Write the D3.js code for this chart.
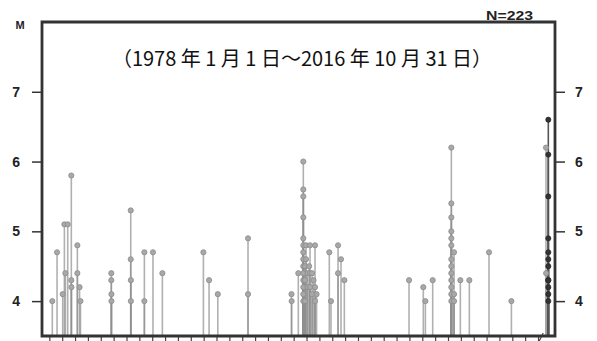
<!DOCTYPE html>
<html>
<head>
<meta charset="utf-8">
<script src="https://cdn.jsdelivr.net/npm/d3@7"></script>
<style>
  html, body { margin: 0; padding: 0; background: #fff; }
  svg { display: block; }
</style>
</head>
<body>
<svg id="chart" width="597" height="341"></svg>
<script>
// Magnitude–time plot of earthquakes (M >= 4.0), 1978-01-01 to 2016-10-31.
// Times are decimal years; magnitudes in M.

// Earlier events (grey)
const pastTime = [
  1978.23, 1978.60, 1979.04, 1979.17, 1979.25, 1979.43, 1979.71, 1979.71, 1979.72,
  1980.18, 1980.18, 1980.35, 1980.42,
  1982.82, 1982.82, 1982.83, 1982.83,
  1984.33, 1984.33, 1984.34, 1984.34,
  1985.39, 1985.39, 1986.06, 1986.79,
  1989.98, 1990.42, 1991.10, 1993.45, 1993.45,
  1996.83, 1996.84, 1997.36,
  1997.75, 1997.75, 1997.75, 1997.75, 1997.75, 1997.75, 1997.75,
  1997.75, 1997.75, 1997.75, 1997.75, 1997.75, 1997.75, 1997.75,
  1997.88, 1997.88, 1997.88, 1997.96, 1997.96,
  1998.08, 1998.08, 1998.20, 1998.27, 1998.27, 1998.27,
  1998.43, 1998.43, 1998.54, 1998.66, 1998.66, 1998.66, 1998.78,
  1999.77, 1999.90, 2000.45, 2000.45, 2000.68, 2000.94,
  2005.97, 2007.08, 2007.24, 2007.81,
  2009.26, 2009.26, 2009.26, 2009.26, 2009.26, 2009.26, 2009.26,
  2009.26, 2009.26, 2009.26, 2009.26, 2009.26, 2009.26,
  2009.47, 2009.47, 2009.47, 2009.96, 2010.66, 2012.19, 2013.93,
  2016.62, 2016.63
];
const pastMag = [
  4.0, 4.7, 4.1, 5.1, 4.4, 5.1, 5.8, 4.3, 4.2,
  4.8, 4.4, 4.2, 4.0,
  4.4, 4.3, 4.1, 4.0,
  5.3, 4.6, 4.3, 4.0,
  4.7, 4.0, 4.7, 4.4,
  4.7, 4.3, 4.1, 4.9, 4.1,
  4.1, 4.0, 4.4,
  6.0, 5.6, 5.5, 5.2, 4.9, 4.8, 4.7,
  4.6, 4.5, 4.4, 4.3, 4.2, 4.1, 4.0,
  4.5, 4.3, 4.0, 4.8, 4.6,
  4.4, 4.2, 4.5, 4.8, 4.4, 4.2,
  4.4, 4.1, 4.3, 4.8, 4.2, 4.0, 4.1,
  4.7, 4.0, 4.8, 4.4, 4.6, 4.3,
  4.3, 4.2, 4.0, 4.3,
  6.2, 5.4, 5.2, 5.0, 4.9, 4.8, 4.6,
  4.5, 4.4, 4.3, 4.2, 4.1, 4.0,
  4.7, 4.1, 4.0, 4.3, 4.3, 4.7, 4.0,
  6.2, 4.4
];

// Most recent sequence (dark)
const recentTime = [2016.80, 2016.80, 2016.80, 2016.80, 2016.80, 2016.80,
                    2016.80, 2016.80, 2016.80, 2016.80, 2016.80, 2016.80];
const recentMag  = [6.6, 6.1, 5.5, 4.9, 4.7, 4.6, 4.5, 4.3, 4.3, 4.2, 4.1, 4.0];

const magTicks = [4, 5, 6, 7];
const yearTicks = d3.range(1978, 2017);
const titleText = "（1978 年 1 月 1 日～2016 年 10 月 31 日）";
const countText = "N=223";

const svg = d3.select("#chart");
const plotLeft = 42, plotRight = 555, plotTop = 22, plotBottom = 336;

const x = d3.scaleLinear().domain([1977.43, 2017.32]).range([plotLeft, plotRight]);
const y = d3.scaleLinear().domain([3.5, 8]).range([plotBottom, plotTop]);

const past = pastTime.map((t, i) => ({ t, m: pastMag[i] }));
const recent = recentTime.map((t, i) => ({ t, m: recentMag[i] }));

// stems
const stems = svg.append("g");
stems.selectAll("line.past").data(past).join("line")
  .attr("class", "past")
  .attr("x1", d => x(d.t)).attr("x2", d => x(d.t))
  .attr("y1", d => y(d.m)).attr("y2", plotBottom)
  .attr("stroke", "#8f8f8f").attr("stroke-opacity", 0.7).attr("stroke-width", 1.6);
stems.selectAll("line.recent").data(recent).join("line")
  .attr("class", "recent")
  .attr("x1", d => x(d.t)).attr("x2", d => x(d.t))
  .attr("y1", d => y(d.m)).attr("y2", plotBottom)
  .attr("stroke", "#555").attr("stroke-width", 1.6);

// points
const dots = svg.append("g");
dots.selectAll("circle.past").data(past).join("circle")
  .attr("class", "past")
  .attr("cx", d => x(d.t)).attr("cy", d => y(d.m)).attr("r", 2.6)
  .attr("fill", "#a8a8a8").attr("stroke", "#8c8c8c").attr("stroke-width", 0.8);
dots.selectAll("circle.recent").data(recent).join("circle")
  .attr("class", "recent")
  .attr("cx", d => x(d.t)).attr("cy", d => y(d.m)).attr("r", 2.6)
  .attr("fill", "#333").attr("stroke", "#222").attr("stroke-width", 0.6);

// left and right magnitude axes
const axisFont = "'Liberation Sans', Arial, sans-serif";
const leftAxis = svg.append("g").attr("transform", `translate(${plotLeft},0)`)
  .call(d3.axisLeft(y).tickValues(magTicks).tickSize(10).tickPadding(12).tickFormat(d3.format("d")));
const rightAxis = svg.append("g").attr("transform", `translate(${plotRight},0)`)
  .call(d3.axisRight(y).tickValues(magTicks).tickSize(10).tickPadding(10).tickFormat(d3.format("d")));
[leftAxis, rightAxis].forEach(g => {
  g.select(".domain").remove();
  g.selectAll(".tick line").attr("stroke", "#333").attr("stroke-width", 1.5);
  g.selectAll(".tick text").attr("fill", "#222").attr("font-family", axisFont)
    .attr("font-weight", "bold").attr("font-size", 14);
});

// bottom year ticks
const bottomAxis = svg.append("g").attr("transform", `translate(0,${plotBottom})`)
  .call(d3.axisBottom(x).tickValues(yearTicks).tickSize(6).tickFormat(""));
bottomAxis.select(".domain").remove();
bottomAxis.selectAll(".tick line").attr("stroke", "#444").attr("stroke-width", 1.2);

// axis break mark
svg.append("line")
  .attr("x1", x(2016.25) - 2).attr("y1", plotBottom + 5)
  .attr("x2", x(2016.25) + 2).attr("y2", plotBottom - 3)
  .attr("stroke", "#444").attr("stroke-width", 1.2);

// frame
svg.append("path")
  .attr("d", `M${plotLeft},${plotBottom}V${plotTop}H${plotRight}V${plotBottom}Z`)
  .attr("fill", "none").attr("stroke", "#333").attr("stroke-width", 2.8);

// labels
svg.append("text").attr("x", 20).attr("y", y(8) + 7).attr("text-anchor", "middle")
  .attr("font-family", axisFont).attr("font-weight", "bold").attr("font-size", 11)
  .attr("fill", "#222").text("M");
svg.append("text").attr("x", 486).attr("y", 20)
  .attr("font-family", axisFont).attr("font-weight", "bold").attr("font-size", 12)
  .attr("textLength", 47).attr("lengthAdjust", "spacingAndGlyphs")
  .attr("fill", "#222").text(countText);
svg.append("text").attr("x", 302).attr("y", 66).attr("text-anchor", "middle")
  .attr("font-family", "'Noto Sans CJK JP', sans-serif").attr("font-size", 20)
  .attr("fill", "#111").text(titleText);
</script>
</body>
</html>
